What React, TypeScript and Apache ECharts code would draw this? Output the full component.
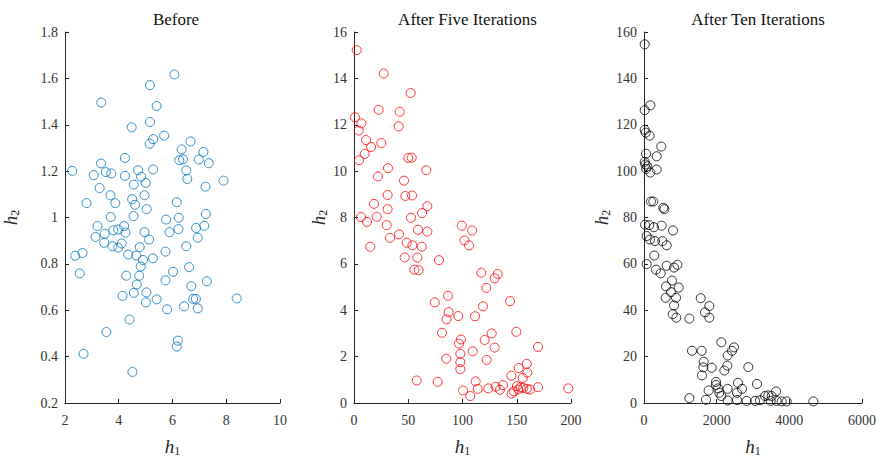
import React, { useEffect, useRef } from "react";
import * as echarts from "echarts";

const titles = ["Before", "After Five Iterations", "After Ten Iterations"];

const beforeH1 = [6.07,5.16,3.35,5.41,5.16,4.48,5.69,5.28,5.15,6.67,6.34,7.15,6.25,6.39,6.98,7.35,4.23,3.34,2.27,3.07,3.52,3.72,4.23,4.72,4.83,5.28,6.51,6.55,7.9,4.56,5.0,3.29,7.23,3.69,4.96,2.8,3.87,4.5,4.61,5.04,6.16,3.7,4.55,5.76,6.23,7.24,3.21,3.48,3.8,3.98,4.2,4.25,3.14,3.46,3.76,3.98,4.11,4.96,5.13,4.78,5.89,6.22,6.88,7.18,6.94,6.51,5.74,2.38,2.65,4.35,4.65,4.9,5.27,4.82,2.55,4.28,4.76,6.02,5.74,6.62,4.67,6.7,7.28,4.14,4.56,5.03,5.01,5.41,5.8,6.43,6.77,6.87,6.94,8.39,4.4,3.54,6.2,6.16,2.69,4.51];
const beforeH2 = [1.617,1.571,1.496,1.481,1.412,1.389,1.353,1.338,1.318,1.328,1.294,1.283,1.247,1.251,1.25,1.234,1.257,1.233,1.201,1.183,1.196,1.19,1.18,1.204,1.176,1.207,1.203,1.166,1.159,1.142,1.149,1.127,1.133,1.096,1.096,1.062,1.062,1.079,1.055,1.036,1.066,1.002,1.006,0.991,0.999,1.015,0.963,0.93,0.945,0.948,0.963,0.935,0.916,0.891,0.876,0.87,0.888,0.937,0.905,0.872,0.937,0.95,0.955,0.964,0.913,0.876,0.853,0.835,0.847,0.84,0.836,0.817,0.824,0.789,0.759,0.749,0.749,0.766,0.729,0.786,0.711,0.704,0.725,0.662,0.675,0.677,0.634,0.647,0.604,0.617,0.649,0.649,0.608,0.651,0.56,0.506,0.469,0.443,0.412,0.334];

const fiveH1 = [2.5,27.4,52.2,22.7,42.1,0.9,6.8,4.3,41.2,11.1,15.7,25.2,9.9,4.6,50.0,53.2,31.3,66.6,22.1,46.1,31.0,47.3,53.5,18.4,31.0,67.6,62.7,6.4,20.9,52.5,12.0,30.1,59.0,67.6,99.3,108.8,33.2,41.5,48.6,53.8,62.4,15.0,101.7,106.0,46.7,58.4,78.3,55.6,59.6,117.3,132.4,129.6,121.9,86.6,74.4,143.8,118.9,87.2,85.4,96.1,111.5,81.1,126.9,149.6,98.6,96.8,120.4,129.6,169.6,98.0,109.4,85.1,122.3,98.0,98.0,159.2,151.8,159.7,145.0,155.5,57.8,77.1,112.1,100.5,114.0,107.2,123.8,130.6,134.5,137.3,145.3,147.2,150.2,151.4,153.6,156.0,159.2,162.2,169.6,197.5];
const fiveH2 = [15.22,14.21,13.37,12.64,12.56,12.32,12.06,11.75,11.93,11.34,11.04,11.21,10.74,10.47,10.57,10.58,10.13,10.04,9.77,9.59,8.97,8.93,8.95,8.59,8.36,8.49,8.19,8.02,8.03,7.99,7.81,7.67,7.47,7.39,7.65,7.44,7.12,7.27,6.91,6.8,6.74,6.74,7.01,6.8,6.28,6.27,6.16,5.75,5.73,5.62,5.56,5.38,4.96,4.62,4.34,4.39,4.17,3.92,3.61,3.75,3.74,3.03,3.0,3.07,2.74,2.56,2.72,2.39,2.42,2.12,2.23,1.91,1.86,1.76,1.46,1.69,1.51,1.31,1.18,1.08,0.97,0.91,0.93,0.54,0.61,0.3,0.63,0.7,0.57,0.77,0.41,0.5,0.73,0.58,0.67,0.65,0.61,0.58,0.68,0.63];

const tenH1 = [19,174,19,19,46,156,476,55,349,37,91,20,60,349,174,193,257,532,560,28,145,275,486,798,73,165,303,505,625,283,73,330,459,625,826,918,606,771,954,743,597,881,826,790,890,1561,1798,1679,1798,1248,2128,2477,2422,2302,1321,1588,1643,1633,1596,1863,2293,2211,2871,1982,1982,2037,2073,2128,1780,2302,2587,2697,2559,3110,1248,1706,2302,2559,2826,3055,3193,3330,3422,3514,3486,3633,3651,3789,3927,4661];
const tenH2 = [154.7,128.4,126.3,117.8,116.6,115.3,110.6,107.5,106.4,102.9,102.1,104,101,100.7,99.4,86.9,86.9,84.2,83.6,76.9,76.7,75.8,76.5,74.4,72.0,70.5,69.8,69.8,68.0,63.6,59.9,57.5,55.9,59.2,58.4,59.6,50.3,52.8,49.8,47.8,45.4,45.4,42.1,38.3,36.8,45.2,41.8,39.1,36.8,36.4,26.2,24.0,22.5,20.5,22.5,22.5,17.8,15.4,11.9,15.2,16.1,14.0,15.5,9.1,7.8,6.3,4.4,3.0,5.4,6.1,8.7,6.1,4.4,8.2,2.1,1.4,1.1,1.3,0.9,0.9,1.2,3.0,3.3,3.0,0.9,5.0,0.9,0.7,0.7,0.7];

const xRanges = [[2, 10, 2], [0, 200, 50], [0, 6000, 2000]];
const yRanges = [[0.2, 1.8, 0.2], [0, 16, 2], [0, 160, 20]];
const colors = ["#0072BD", "#FF0000", "#000000"];

const FONT = "Liberation Serif";

const grids = [
  { left: 62, width: 218 },
  { left: 354, width: 217 },
  { left: 644, width: 218 },
];
const yNameGaps = [44, 20, 24];

export default function App() {
  const ref = useRef<HTMLDivElement>(null);
  useEffect(() => {
    if (!ref.current) return;
    const chart = echarts.init(ref.current, null, { renderer: "svg" });
    const rich = {
      i: { fontFamily: FONT, fontStyle: "italic", fontSize: 19, color: "#262626" },
      s: { fontFamily: FONT, fontSize: 12, color: "#262626", padding: [9, 0, 0, 0] },
    };
    const data = [
      beforeH1.map((v, i) => [v, beforeH2[i]]),
      fiveH1.map((v, i) => [v, fiveH2[i]]),
      tenH1.map((v, i) => [v, tenH2[i]]),
    ];
    const axisCommon = {
      axisLine: { show: true, lineStyle: { color: "#262626", width: 1 } },
      axisTick: { show: true, inside: true, length: 4, lineStyle: { color: "#262626" } },
      splitLine: { show: false },
      axisLabel: {
        fontFamily: FONT,
        fontSize: 14,
        color: "#333333",
        formatter: (v: number) => String(Math.round(v * 100) / 100),
      },
    };
    chart.setOption({
      animation: false,
      backgroundColor: "#ffffff",
      title: titles.map((t, i) => ({
        text: t,
        left: grids[i].left + grids[i].width / 2,
        top: 6,
        textAlign: "center",
        textStyle: { fontFamily: FONT, fontSize: 17, fontWeight: "normal", color: "#111" },
      })),
      grid: grids.map((g) => ({ left: g.left, width: g.width, top: 32, bottom: 55 })),
      xAxis: xRanges.map((r, i) => ({
        type: "value",
        gridIndex: i,
        min: r[0],
        max: r[1],
        interval: r[2],
        name: "{i|h}{s|1}",
        nameLocation: "middle",
        nameGap: 33,
        nameTextStyle: { rich },
        ...axisCommon,
        axisLabel: { ...axisCommon.axisLabel, margin: 10 },
      })),
      yAxis: yRanges.map((r, i) => ({
        type: "value",
        gridIndex: i,
        min: r[0],
        max: r[1],
        interval: r[2],
        name: "{i|h}{s|2}",
        nameLocation: "middle",
        nameGap: yNameGaps[i],
        nameRotate: 90,
        nameTextStyle: { rich },
        ...axisCommon,
        axisLabel: { ...axisCommon.axisLabel, margin: 7 },
      })),
      series: data.map((d, i) => ({
        type: "scatter",
        xAxisIndex: i,
        yAxisIndex: i,
        data: d,
        symbol: "circle",
        symbolSize: 9,
        clip: false,
        itemStyle: { color: "rgba(0,0,0,0)", borderColor: colors[i], borderWidth: 1 },
      })),
    });
    return () => chart.dispose();
  }, []);
  return (
    <div
      ref={ref}
      style={{ position: "absolute", left: 0, top: 0, width: 881, height: 462 }}
    />
  );
}
